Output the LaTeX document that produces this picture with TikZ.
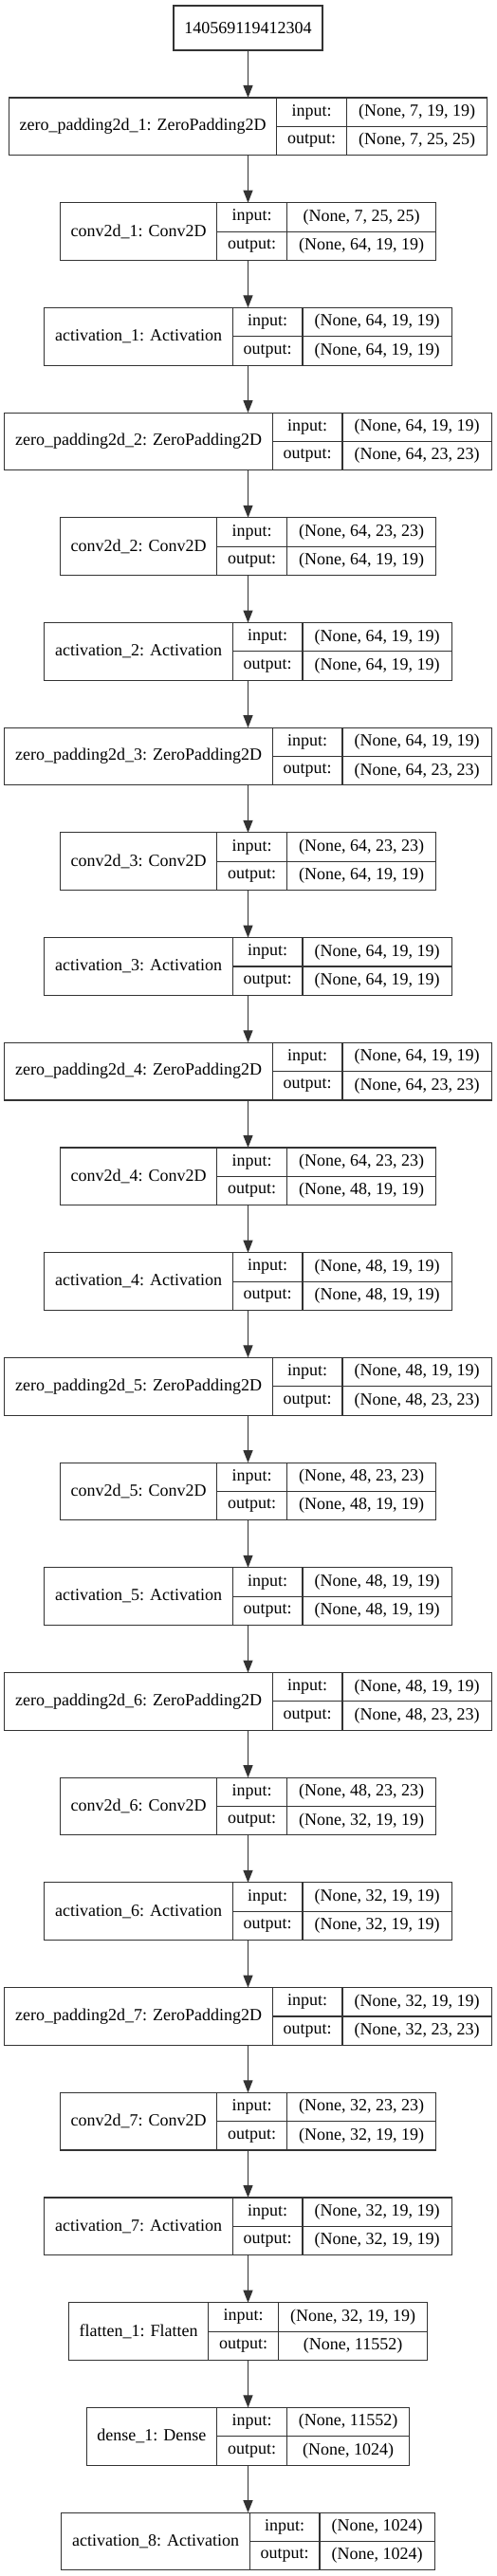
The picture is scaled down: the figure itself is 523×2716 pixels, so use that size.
\documentclass[tikz,border=0pt]{standalone}
\usepackage{fontspec}
\setmainfont{Liberation Serif}
\usetikzlibrary{arrows.meta}

\newcommand\recfont{\fontsize{18}{21.6}\selectfont}
\newlength\wname \newlength\wlab \newlength\wval \newlength\wtot

\tikzset{
  field/.style={draw=black!80, line width=1.1pt, inner xsep=0pt, inner ysep=0pt,
    outer sep=0pt, font=\recfont, anchor=north west},
  namefield/.style={field, minimum height=60.7pt},
  halffield/.style={field, minimum height=30.35pt},
  topbox/.style={draw=black!80, line width=1.1pt, inner xsep=11.3pt, inner ysep=0pt,
    outer sep=0pt, minimum height=47pt, font=\recfont},
  arr/.style={-{Triangle[length=13pt,width=10pt]}, line width=1.1pt, draw=black!80, fill=black}
}

% one record: id, row, name, input shape, output shape
\newcommand\layer[5]{%
  \pgfmathsetmacro\ytop{103+(#2-1)*110.7}%
  \pgfinterruptpicture
    \setbox0\hbox{\normalfont\recfont #3}\global\wname=\wd0
    \setbox0\hbox{\normalfont\recfont output:}\global\wlab=\wd0
    \setbox0\hbox{\normalfont\recfont #4}\global\wval=\wd0
    \setbox0\hbox{\normalfont\recfont #5}\ifdim\wd0>\wval \global\wval=\wd0 \fi
  \endpgfinterruptpicture
  \addtolength\wname{22.6pt}\addtolength\wlab{22.6pt}\addtolength\wval{25.2pt}%
  \setlength\wtot{\wname}\addtolength\wtot{\wlab}\addtolength\wtot{\wval}%
  \node[namefield, minimum width=\wname] (#1) at ({261.5pt-0.5*\wtot},{-\ytop pt}) {#3};
  \node[halffield, minimum width=\wlab] (#1-il) at (#1.north east) {input:};
  \node[halffield, minimum width=\wlab] (#1-ol) at (#1-il.south west) {output:};
  \node[halffield, minimum width=\wval] (#1-iv) at (#1-il.north east) {#4};
  \node[halffield, minimum width=\wval] (#1-ov) at (#1-iv.south west) {#5};
  \coordinate (#1-top) at (261.5pt,{-\ytop pt});
  \coordinate (#1-bot) at (261.5pt,{-\ytop pt-60.7pt});
}

\begin{document}
\begin{tikzpicture}
\useasboundingbox (0,0) rectangle (523pt,-2716pt);

% input
\node[topbox] (input) at (261.5pt,-29.5pt) {140569119412304};

% conv blocks
\layer{zp1}{1}{zero\_padding2d\_1: ZeroPadding2D}{(None, 7, 19, 19)}{(None, 7, 25, 25)}
\layer{conv1}{2}{conv2d\_1: Conv2D}{(None, 7, 25, 25)}{(None, 64, 19, 19)}
\layer{act1}{3}{activation\_1: Activation}{(None, 64, 19, 19)}{(None, 64, 19, 19)}
\layer{zp2}{4}{zero\_padding2d\_2: ZeroPadding2D}{(None, 64, 19, 19)}{(None, 64, 23, 23)}
\layer{conv2}{5}{conv2d\_2: Conv2D}{(None, 64, 23, 23)}{(None, 64, 19, 19)}
\layer{act2}{6}{activation\_2: Activation}{(None, 64, 19, 19)}{(None, 64, 19, 19)}
\layer{zp3}{7}{zero\_padding2d\_3: ZeroPadding2D}{(None, 64, 19, 19)}{(None, 64, 23, 23)}
\layer{conv3}{8}{conv2d\_3: Conv2D}{(None, 64, 23, 23)}{(None, 64, 19, 19)}
\layer{act3}{9}{activation\_3: Activation}{(None, 64, 19, 19)}{(None, 64, 19, 19)}
\layer{zp4}{10}{zero\_padding2d\_4: ZeroPadding2D}{(None, 64, 19, 19)}{(None, 64, 23, 23)}
\layer{conv4}{11}{conv2d\_4: Conv2D}{(None, 64, 23, 23)}{(None, 48, 19, 19)}
\layer{act4}{12}{activation\_4: Activation}{(None, 48, 19, 19)}{(None, 48, 19, 19)}
\layer{zp5}{13}{zero\_padding2d\_5: ZeroPadding2D}{(None, 48, 19, 19)}{(None, 48, 23, 23)}
\layer{conv5}{14}{conv2d\_5: Conv2D}{(None, 48, 23, 23)}{(None, 48, 19, 19)}
\layer{act5}{15}{activation\_5: Activation}{(None, 48, 19, 19)}{(None, 48, 19, 19)}
\layer{zp6}{16}{zero\_padding2d\_6: ZeroPadding2D}{(None, 48, 19, 19)}{(None, 48, 23, 23)}
\layer{conv6}{17}{conv2d\_6: Conv2D}{(None, 48, 23, 23)}{(None, 32, 19, 19)}
\layer{act6}{18}{activation\_6: Activation}{(None, 32, 19, 19)}{(None, 32, 19, 19)}
\layer{zp7}{19}{zero\_padding2d\_7: ZeroPadding2D}{(None, 32, 19, 19)}{(None, 32, 23, 23)}
\layer{conv7}{20}{conv2d\_7: Conv2D}{(None, 32, 23, 23)}{(None, 32, 19, 19)}
\layer{act7}{21}{activation\_7: Activation}{(None, 32, 19, 19)}{(None, 32, 19, 19)}

% head
\layer{flat1}{22}{flatten\_1: Flatten}{(None, 32, 19, 19)}{(None, 11552)}
\layer{dense1}{23}{dense\_1: Dense}{(None, 11552)}{(None, 1024)}
\layer{act8}{24}{activation\_8: Activation}{(None, 1024)}{(None, 1024)}

% arrows
\draw[arr] (input.south) -- (zp1-top);
\draw[arr] (zp1-bot) -- (conv1-top);
\draw[arr] (conv1-bot) -- (act1-top);
\draw[arr] (act1-bot) -- (zp2-top);
\draw[arr] (zp2-bot) -- (conv2-top);
\draw[arr] (conv2-bot) -- (act2-top);
\draw[arr] (act2-bot) -- (zp3-top);
\draw[arr] (zp3-bot) -- (conv3-top);
\draw[arr] (conv3-bot) -- (act3-top);
\draw[arr] (act3-bot) -- (zp4-top);
\draw[arr] (zp4-bot) -- (conv4-top);
\draw[arr] (conv4-bot) -- (act4-top);
\draw[arr] (act4-bot) -- (zp5-top);
\draw[arr] (zp5-bot) -- (conv5-top);
\draw[arr] (conv5-bot) -- (act5-top);
\draw[arr] (act5-bot) -- (zp6-top);
\draw[arr] (zp6-bot) -- (conv6-top);
\draw[arr] (conv6-bot) -- (act6-top);
\draw[arr] (act6-bot) -- (zp7-top);
\draw[arr] (zp7-bot) -- (conv7-top);
\draw[arr] (conv7-bot) -- (act7-top);
\draw[arr] (act7-bot) -- (flat1-top);
\draw[arr] (flat1-bot) -- (dense1-top);
\draw[arr] (dense1-bot) -- (act8-top);

\end{tikzpicture}
\end{document}
